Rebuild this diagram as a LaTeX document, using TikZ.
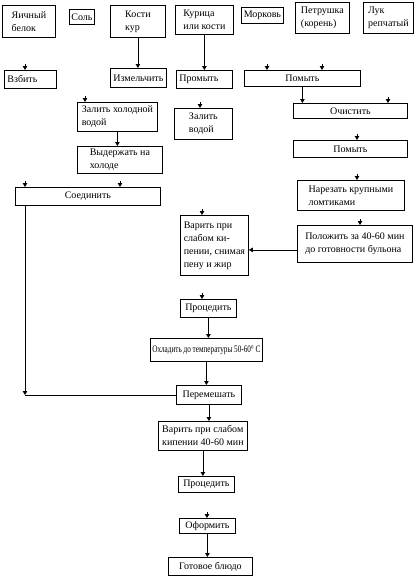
\documentclass[tikz,border=0pt]{standalone}
\usepackage{fontspec}
\setmainfont{Liberation Serif}
\usetikzlibrary{arrows.meta}
\tikzset{
  box/.style={draw, line width=0.8pt, anchor=north west, inner xsep=3pt, inner ysep=1pt,
    align=left, font=\fontsize{10}{13}\selectfont},
  tip/.style={line width=0.8pt, -{Triangle[width=4.5pt,length=4pt]}}
}
\begin{document}
\begin{tikzpicture}[x=1pt,y=-1pt]
\useasboundingbox (0,0) rectangle (415,576);
% first row
\node[box, minimum width=53, minimum height=32] (yaichn) at (2,5) {Яичный\\белок};
\node[box, minimum width=25, minimum height=15, inner xsep=1pt] (sol) at (69,9) {Соль};
\node[box, minimum width=55, minimum height=32] (kosti) at (110,5) {Кости\\кур};
\node[box, minimum width=58, minimum height=29] (kuritsa) at (175,5) {Курица\\или кости};
\node[box, minimum width=42, minimum height=16, inner xsep=1pt] (morkov) at (241,7) {Морковь};
\node[box, minimum width=54, minimum height=31] (petr) at (295,2) {Петрушка\\(корень)};
\node[box, minimum width=50, minimum height=31] (luk) at (363,2) {Лук\\репчатый};
% second row
\node[box, text width=46, minimum height=18] (vzbit) at (4,70) {Взбить};
\node[box, minimum width=56, minimum height=19, inner xsep=1pt] (izm) at (110,68) {Измельчить};
\node[box, text width=50, minimum height=18] (promyt) at (176,70) {Промыть};
\node[box, minimum width=116, minimum height=16] (pomyt1) at (244,70) {Помыть};
% left and middle columns
\node[box, minimum width=80, minimum height=29] (zalit1) at (77,102) {Залить холодной\\водой};
\node[box, minimum width=58, minimum height=31] (zalit2) at (174,108) {Залить\\водой};
\node[box, minimum width=85, minimum height=27] (vyderzh) at (77,146) {Выдержать на\\холоде};
\node[box, minimum width=145, minimum height=18] (soedin) at (15,187) {Соединить};
% right column
\node[box, minimum width=114, minimum height=15] (ochist) at (293,103) {Очистить};
\node[box, minimum width=114, minimum height=17] (pomyt2) at (293,140) {Помыть};
\node[box, minimum width=107, minimum height=30] (narez) at (297,180) {Нарезать крупными\\ломтиками};
\node[box, minimum width=115, minimum height=37] (polozh) at (297,225) {Положить за 40-60 мин\\до готовности бульона};
% main line
\node[box, minimum width=68, minimum height=60] (varit1) at (180,215) {Варить при\\слабом ки-\\пении, снимая\\пену и жир};
\node[box, minimum width=56, minimum height=18] (protsed1) at (180,299) {Процедить};
\node[box, minimum width=112, minimum height=23, inner xsep=1pt] (okhlad) at (150,338)
  {\scalebox{0.72}[1]{Охладить до температуры 50-60° С}};
\node[box, minimum width=65, minimum height=19] (peremesh) at (176,385) {Перемешать};
\node[box, minimum width=89, minimum height=29] (varit2) at (158,421) {Варить при слабом\\кипении 40-60 мин};
\node[box, minimum width=56, minimum height=16] (protsed2) at (178,476) {Процедить};
\node[box, minimum width=56, minimum height=15] (oform) at (179,518) {Оформить};
\node[box, minimum width=84, minimum height=18] (gotovo) at (168,557) {Готовое блюдо};

% connectors
\draw[tip] (kosti.south) -- (kosti.south |- izm.north);
\draw[tip] (kuritsa.south) -- (kuritsa.south |- promyt.north);
\draw[tip] (pomyt1.south) -- (pomyt1.south |- ochist.north);
\draw[tip] (zalit1.south) -- (zalit1.south |- vyderzh.north);
\coordinate (pw) at ([yshift=-6pt]polozh.west);
\draw[tip] (pw) -- (pw -| varit1.east);
\draw[tip] (protsed1.south) -- (protsed1.south |- okhlad.north);
\draw[tip] (okhlad.south) -- (okhlad.south |- peremesh.north);
\coordinate (ugol) at (25,395);
\draw[tip] (ugol |- soedin.south) -- (ugol);
\draw[line width=0.8pt] (ugol) -- (ugol -| peremesh.west);
\draw[tip] (peremesh.south) -- (peremesh.south |- varit2.north);
\draw[tip] (varit2.south) -- (varit2.south |- protsed2.north);
\draw[tip] (oform.south) -- (oform.south |- gotovo.north);

% loose arrow heads
\foreach \x/\n in {25/vzbit, 267/pomyt1, 322/pomyt1, 85/zalit1, 200/zalit2, 388/ochist,
  25/soedin, 120/soedin, 357/pomyt2, 357/narez, 360/polozh, 202/varit1, 202/protsed1, 207/oform}{
\draw[tip] (\x,0 |- \n.north) ++(0,-6) -- (\x,0 |- \n.north);
}
\end{tikzpicture}
\end{document}
